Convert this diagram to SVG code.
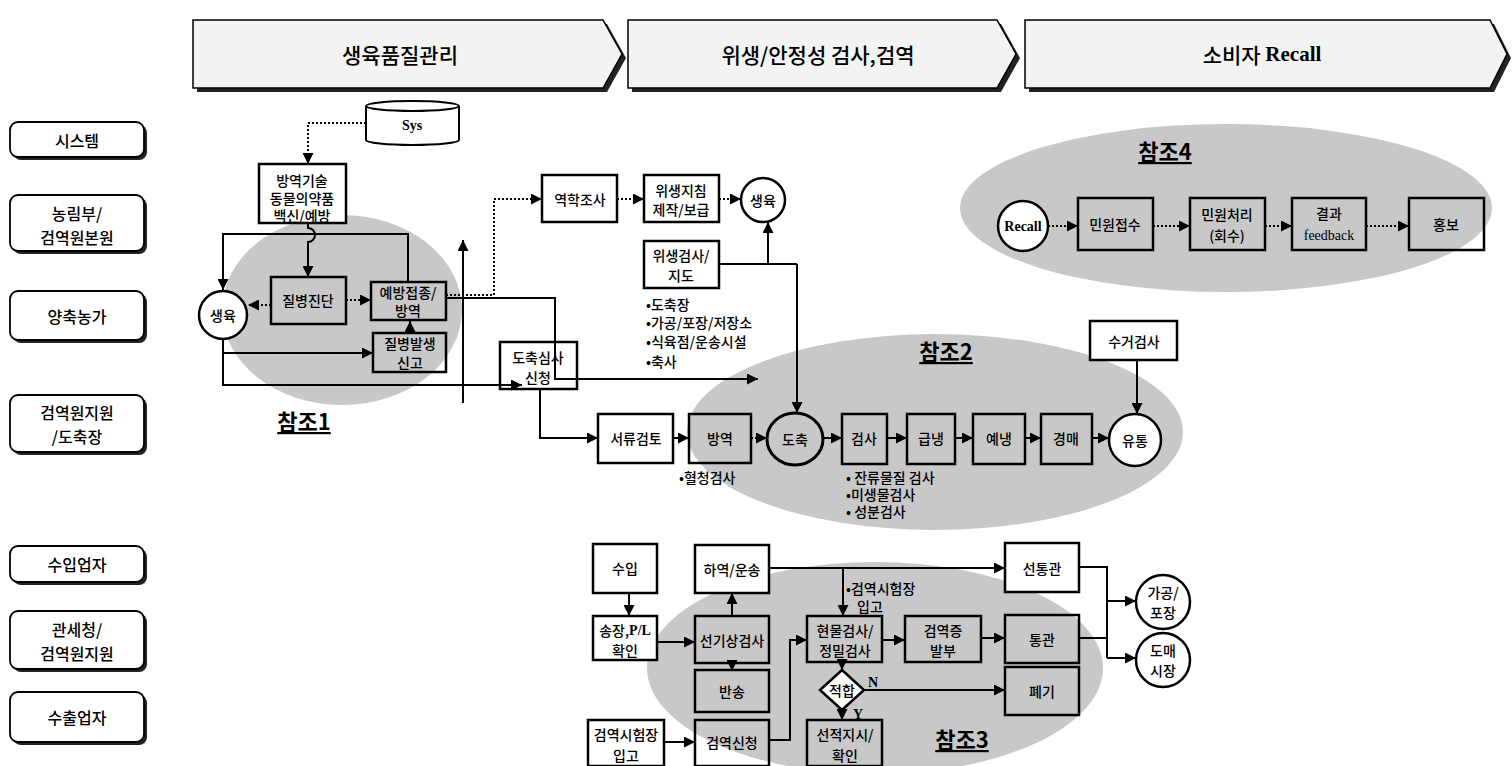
<svg xmlns="http://www.w3.org/2000/svg" width="1512" height="766" viewBox="0 0 1512 766">
<defs>
<marker id="ah" viewBox="0 0 10 10" refX="10" refY="5" markerWidth="11" markerHeight="11" markerUnits="userSpaceOnUse" orient="auto"><path d="M0,0 L10,5 L0,10 z" fill="#000"/></marker>
</defs>
<style>
.k{font-family:"Noto Sans CJK KR","Noto Sans",sans-serif;fill:#000;text-anchor:middle;dominant-baseline:central;font-size:14px;font-weight:500}
.st{text-anchor:start}
.s{font-family:"Liberation Serif",serif}
.bd{font-weight:bold}
.b{fill:none;stroke:#000;stroke-width:2.5}
.c{fill:#fff;stroke:#000;stroke-width:2.5}
.ln{fill:none;stroke:#000;stroke-width:2}
.dt{fill:none;stroke:#000;stroke-width:2;stroke-dasharray:2 2}
.a{marker-end:url(#ah)}
.sh{fill:#222}
.hd{fill:#f3f3f3;stroke:#000;stroke-width:1.5}
.ell{fill:#c8c8c8}
.ref{font-family:"Noto Sans CJK KR",sans-serif;font-weight:bold;font-size:22px;text-decoration:underline;text-anchor:middle;dominant-baseline:central}
.lab{fill:#fff;stroke:#000;stroke-width:1.8}
.hl{font-size:21px}
.ll{font-size:16px}
</style>
<rect width="1512" height="766" fill="#fff"/>

<g id="zones">
<ellipse class="ell" cx="342" cy="310" rx="120" ry="95"/>
<ellipse class="ell" cx="935" cy="432" rx="248" ry="98"/>
<ellipse class="ell" cx="1226" cy="208" rx="266" ry="84"/>
<ellipse class="ell" cx="875" cy="668" rx="228" ry="106"/>
</g>

<g id="header1"><polygon class="sh" points="197,24 607,24 626,58 607,92 197,92"/><polygon class="hd" points="193,20 603,20 622,54 603,88 193,88"/><text class="k hl" x="400" y="54">생육품질관리</text></g>
<g id="header2"><polygon class="sh" points="632,24 1001,24 1020,58 1001,92 632,92"/><polygon class="hd" points="628,20 997,20 1016,54 997,88 628,88"/><text class="k hl" x="818" y="54">위생/안정성 검사,검역</text></g>
<g id="header3"><polygon class="sh" points="1029,24 1494,24 1511,58 1494,92 1029,92"/><polygon class="hd" points="1025,20 1490,20 1507,54 1490,88 1025,88"/><text class="k hl" x="1262" y="54">소비자 <tspan class="s bd">Recall</tspan></text></g>

<g id="lane1"><rect class="sh" x="13" y="125" width="134" height="35" rx="8"/><rect class="lab" x="10" y="122" width="134" height="35" rx="8"/><text class="k ll" x="77" y="140">시스템</text></g>
<g id="lane2"><rect class="sh" x="13" y="198" width="134" height="56" rx="8"/><rect class="lab" x="10" y="195" width="134" height="56" rx="8"/><text class="k ll" x="77" y="213">농림부/</text><text class="k ll" x="77" y="237">검역원본원</text></g>
<g id="lane3"><rect class="sh" x="13" y="294" width="134" height="49" rx="8"/><rect class="lab" x="10" y="291" width="134" height="49" rx="8"/><text class="k ll" x="77" y="316">양축농가</text></g>
<g id="lane4"><rect class="sh" x="13" y="398" width="134" height="57" rx="8"/><rect class="lab" x="10" y="395" width="134" height="57" rx="8"/><text class="k ll" x="77" y="412">검역원지원</text><text class="k ll" x="77" y="436">/도축장</text></g>
<g id="lane5"><rect class="sh" x="13" y="549" width="134" height="36" rx="8"/><rect class="lab" x="10" y="546" width="134" height="36" rx="8"/><text class="k ll" x="77" y="564">수입업자</text></g>
<g id="lane6"><rect class="sh" x="13" y="614" width="134" height="58" rx="8"/><rect class="lab" x="10" y="611" width="134" height="58" rx="8"/><text class="k ll" x="77" y="629">관세청/</text><text class="k ll" x="77" y="653">검역원지원</text></g>
<g id="lane7"><rect class="sh" x="13" y="695" width="134" height="50" rx="8"/><rect class="lab" x="10" y="692" width="134" height="50" rx="8"/><text class="k ll" x="77" y="717">수출업자</text></g>

<g id="sys"><path d="M366,106 V140 A46.5,5 0 0 0 459,140 V106" fill="#fff" stroke="#000" stroke-width="2"/><ellipse cx="412.5" cy="106" rx="46.5" ry="5" fill="#fff" stroke="#000" stroke-width="2"/><text class="k s bd" x="412" y="125" font-size="17">Sys</text></g>
<g id="n_bangyeok_tech"><rect class="c" x="259" y="164" width="87" height="59"/><text class="k" x="302" y="180">방역기술</text><text class="k" x="302" y="198">동물의약품</text><text class="k" x="302" y="215">백신/예방</text></g>
<g id="n_saengyuk1"><circle class="c" cx="223" cy="315" r="24"/><text class="k" x="223" y="315">생육</text></g>
<g id="n_jilbyeong"><rect class="b" x="271" y="277" width="75" height="47"/><text class="k" x="308" y="300">질병진단</text></g>
<g id="n_yebang"><rect class="b" x="371" y="282" width="75" height="38"/><text class="k" x="408" y="292">예방접종/</text><text class="k" x="408" y="310">방역</text></g>
<g id="n_balsaeng"><rect class="b" x="373" y="333" width="73" height="39"/><text class="k" x="410" y="343">질병발생</text><text class="k" x="410" y="362">신고</text></g>
<g id="ref1"><text class="ref" x="304" y="420">참조1</text></g>

<g id="n_dochuksimsa"><rect class="b" x="500" y="342" width="77" height="47"/><text class="k" x="538" y="357">도축심사</text><text class="k" x="538" y="377">신청</text></g>
<g id="n_yeokhak"><rect class="c" x="542" y="175" width="75" height="47"/><text class="k" x="580" y="199">역학조사</text></g>
<g id="n_wisaengjichim"><rect class="c" x="644" y="175" width="75" height="47"/><text class="k" x="681" y="190">위생지침</text><text class="k" x="681" y="209">제작/보급</text></g>
<g id="n_saengyuk2"><circle class="c" cx="763" cy="200" r="22"/><text class="k" x="763" y="200">생육</text></g>
<g id="n_wisaenggeomsa"><rect class="c" x="644" y="241" width="75" height="47"/><text class="k" x="681" y="255">위생검사/</text><text class="k" x="681" y="275">지도</text></g>
<g id="bullets1"><text class="k st" x="646" y="304">•도축장</text><text class="k st" x="646" y="322">•가공/포장/저장소</text><text class="k st" x="646" y="341">•식육점/운송시설</text><text class="k st" x="646" y="361">•축사</text></g>

<g id="n_seoryu"><rect class="c" x="598" y="414" width="75" height="49"/><text class="k" x="636" y="438">서류검토</text></g>
<g id="n_bangyeok"><rect class="b" x="689" y="414" width="62" height="49"/><text class="k" x="720" y="438">방역</text><text class="k st" x="679" y="477">•혈청검사</text></g>
<g id="n_dochuk"><ellipse cx="795" cy="439" rx="28" ry="26" fill="none" stroke="#000" stroke-width="3"/><text class="k" x="795" y="439">도축</text></g>
<g id="n_geomsa"><rect class="b" x="842" y="414" width="45" height="50"/><text class="k" x="864" y="438">검사</text></g>
<g id="bullets2"><text class="k st" x="846" y="477" font-size="13">• 잔류물질 검사</text><text class="k st" x="846" y="494" font-size="13">•미생물검사</text><text class="k st" x="846" y="511" font-size="13">• 성분검사</text></g>
<g id="n_geupnaeng"><rect class="b" x="907" y="414" width="48" height="50"/><text class="k" x="931" y="438">급냉</text></g>
<g id="n_yenaeng"><rect class="b" x="973" y="414" width="52" height="50"/><text class="k" x="999" y="438">예냉</text></g>
<g id="n_gyeongmae"><rect class="b" x="1041" y="414" width="51" height="50"/><text class="k" x="1066" y="438">경매</text></g>
<g id="n_yutong"><circle class="c" cx="1135" cy="440" r="26"/><text class="k" x="1135" y="440">유통</text></g>
<g id="n_sugeo"><rect class="c" x="1090" y="321" width="87" height="39"/><text class="k" x="1134" y="341">수거검사</text></g>
<g id="ref2"><text class="ref" x="946" y="350">참조2</text></g>

<g id="ref4"><text class="ref" x="1165" y="150">참조4</text></g>
<g id="n_recall"><circle class="c" cx="1023" cy="226" r="25"/><text class="k s bd" x="1023" y="226" font-size="13">Recall</text></g>
<g id="n_minwon1"><rect class="b" x="1078" y="198" width="75" height="52"/><text class="k" x="1115" y="224">민원접수</text></g>
<g id="n_minwon2"><rect class="b" x="1190" y="198" width="75" height="52"/><text class="k" x="1227" y="214">민원처리</text><text class="k" x="1227" y="235">(회수)</text></g>
<g id="n_result"><rect class="b" x="1292" y="198" width="74" height="52"/><text class="k" x="1329" y="213">결과</text><text class="k s" x="1329" y="235" font-size="14">feedback</text></g>
<g id="n_hongbo"><rect class="b" x="1409" y="198" width="75" height="52"/><text class="k" x="1446" y="224">홍보</text></g>

<g id="n_suip"><rect class="c" x="593" y="544" width="64" height="49"/><text class="k" x="625" y="568">수입</text></g>
<g id="n_songjang"><rect class="c" x="593" y="616" width="64" height="44"/><text class="k" x="625" y="630">송장,<tspan class="s bd">P/L</tspan></text><text class="k" x="625" y="650">확인</text></g>
<g id="n_hayeok"><rect class="c" x="695" y="545" width="74" height="48"/><text class="k" x="732" y="569">하역/운송</text></g>
<g id="n_seongisang"><rect class="b" x="695" y="616" width="74" height="47"/><text class="k" x="732" y="640">선기상검사</text></g>
<g id="n_bansong"><rect class="b" x="695" y="670" width="74" height="42"/><text class="k" x="732" y="691">반송</text></g>
<g id="n_siheomjang"><rect class="c" x="588" y="720" width="76" height="46"/><text class="k" x="626" y="734">검역시험장</text><text class="k" x="626" y="755">입고</text></g>
<g id="n_singcheong"><rect class="b" x="695" y="720" width="74" height="46"/><text class="k" x="732" y="742">검역신청</text></g>
<g id="n_hyeonmul"><rect class="b" x="807" y="616" width="75" height="46"/><text class="k" x="845" y="630">현물검사/</text><text class="k" x="845" y="650">정밀검사</text></g>
<g id="note3"><text class="k st" x="846" y="588">•검역시험장</text><text class="k st" x="857" y="606">입고</text></g>
<g id="n_geomyeokjeung"><rect class="b" x="905" y="616" width="76" height="46"/><text class="k" x="943" y="630">검역증</text><text class="k" x="943" y="650">발부</text></g>
<g id="n_jeokhap"><polygon points="842,670 864,690 842,710 820,690" fill="#fff" stroke="#000" stroke-width="2.5"/><text class="k" x="842" y="690" font-size="13">적합</text><text class="k s bd" x="873" y="682" font-size="14">N</text><text class="k s bd" x="858" y="714" font-size="14">Y</text></g>
<g id="n_seonjeok"><rect class="b" x="807" y="720" width="75" height="46"/><text class="k" x="845" y="734">선적지시/</text><text class="k" x="845" y="755">확인</text></g>
<g id="n_seontonggwan"><rect class="c" x="1005" y="543" width="74" height="49"/><text class="k" x="1042" y="568">선통관</text></g>
<g id="n_tonggwan"><rect class="b" x="1005" y="615" width="74" height="48"/><text class="k" x="1042" y="639">통관</text></g>
<g id="n_pyegi"><rect class="b" x="1005" y="667" width="74" height="48"/><text class="k" x="1042" y="691">폐기</text></g>
<g id="n_gagong"><circle class="c" cx="1163" cy="602" r="27"/><text class="k" x="1163" y="592">가공/</text><text class="k" x="1163" y="612">포장</text></g>
<g id="n_domae"><circle class="c" cx="1163" cy="660" r="27"/><text class="k" x="1163" y="650">도매</text><text class="k" x="1163" y="670">시장</text></g>
<g id="ref3"><text class="ref" x="962" y="738">참조3</text></g>

<g id="connectors">
<path class="dt a" d="M366,123 H308 V164"/>
<path class="ln a" d="M308,223 V228 A7,7 0 0 1 308,242 V277"/>
<path class="ln a" d="M408,282 V234 H223 V290"/>
<path class="dt a" d="M271,305 H248"/>
<path class="dt a" d="M346,300 H371"/>
<path class="ln a" d="M410,333 V321"/>
<path class="ln a" d="M223,339 V353 H373"/>
<path class="ln a" d="M223,353 V385 H522"/>
<path class="ln a" d="M463,403 V240"/>
<path class="ln a" d="M446,298 H555 V379 H758"/>
<path class="dt a" d="M446,295 H494 V199 H542"/>
<path class="dt a" d="M617,199 H644"/>
<path class="dt a" d="M719,199 H741"/>
<path class="ln" d="M719,264 H797"/>
<path class="ln a" d="M768,264 V222"/>
<path class="ln a" d="M797,264 V413"/>
<path class="ln a" d="M540,389 V438 H598"/>
<path class="ln a" d="M673,438 H689"/>
<path class="dt a" d="M751,438 H767"/>
<path class="ln a" d="M823,438 H842"/>
<path class="ln a" d="M887,438 H907"/>
<path class="ln a" d="M955,438 H973"/>
<path class="ln a" d="M1025,438 H1041"/>
<path class="ln a" d="M1092,438 H1109"/>
<path class="ln a" d="M1137,360 V414"/>
<path class="dt a" d="M1048,226 H1078"/>
<path class="dt a" d="M1153,226 H1190"/>
<path class="dt a" d="M1265,226 H1292"/>
<path class="dt a" d="M1366,226 H1409"/>
<path class="ln a" d="M629,593 V616"/>
<path class="ln a" d="M657,642 H695"/>
<path class="ln a" d="M732,616 V593"/>
<path class="ln a" d="M732,660 V671"/>
<path class="ln a" d="M664,742 H695"/>
<path class="ln a" d="M769,740 H790 V640 H807"/>
<path class="ln a" d="M769,568 H1005"/>
<path class="ln a" d="M843,568 V616"/>
<path class="ln a" d="M882,640 H905"/>
<path class="ln a" d="M981,638 H1005"/>
<path class="ln a" d="M842,661 V670"/>
<path class="ln a" d="M864,690 H1005"/>
<path class="ln a" d="M842,710 V720"/>
<path class="ln" d="M1079,567 H1107 V658"/>
<path class="ln" d="M1079,638 H1107"/>
<path class="ln a" d="M1107,601 H1136"/>
<path class="ln a" d="M1107,658 H1136"/>
</g>
</svg>
